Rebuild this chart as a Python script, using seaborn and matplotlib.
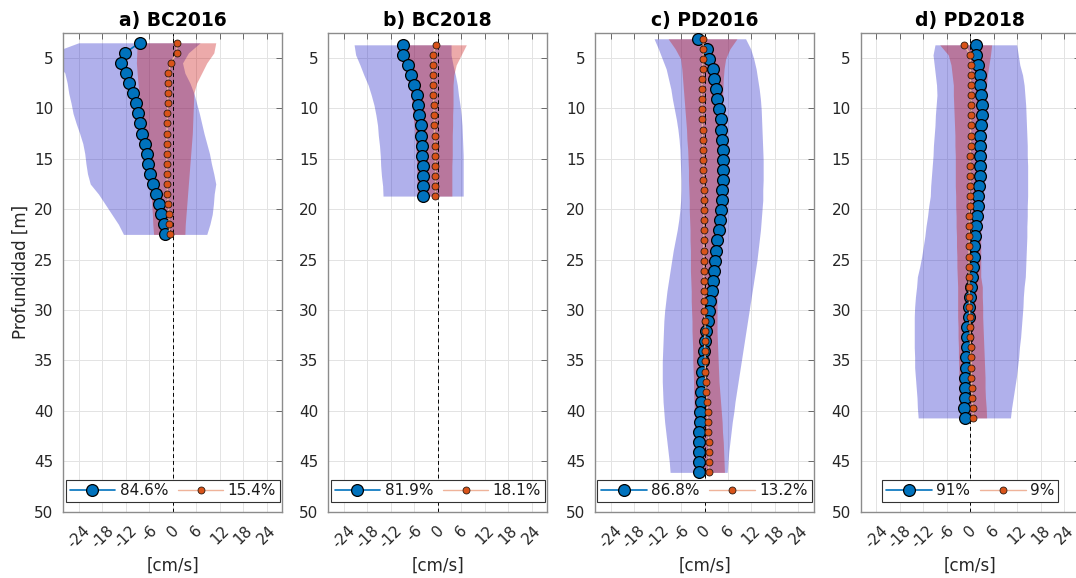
import matplotlib
matplotlib.use("Agg")
import matplotlib.pyplot as plt
import seaborn as sns

titles = ["a) BC2016", "b) BC2018", "c) PD2016", "d) PD2018"]
pct_blue = ["84.6%", "81.9%", "86.8%", "91%"]
pct_orange = ["15.4%", "18.1%", "13.2%", "9%"]

# depths [m]
depth_a = [3.5, 4.5, 5.5, 6.5, 7.5, 8.5, 9.5, 10.5, 11.5, 12.5, 13.5, 14.5, 15.5, 16.5,
           17.5, 18.5, 19.5, 20.5, 21.5, 22.5]
depth_b = [3.7, 4.7, 5.7, 6.7, 7.7, 8.7, 9.7, 10.7, 11.7, 12.7, 13.7, 14.7, 15.7, 16.7,
           17.7, 18.7]
depth_c = [3.1, 4.1, 5.1, 6.1, 7.1, 8.1, 9.1, 10.1, 11.1, 12.1, 13.1, 14.1, 15.1, 16.1,
           17.1, 18.1, 19.1, 20.1, 21.1, 22.1, 23.1, 24.1, 25.1, 26.1, 27.1, 28.1, 29.1,
           30.1, 31.1, 32.1, 33.1, 34.1, 35.1, 36.1, 37.1, 38.1, 39.1, 40.1, 41.1, 42.1,
           43.1, 44.1, 45.1, 46.1]
depth_d = [3.7, 4.7, 5.7, 6.7, 7.7, 8.7, 9.7, 10.7, 11.7, 12.7, 13.7, 14.7, 15.7, 16.7,
           17.7, 18.7, 19.7, 20.7, 21.7, 22.7, 23.7, 24.7, 25.7, 26.7, 27.7, 28.7, 29.7,
           30.7, 31.7, 32.7, 33.7, 34.7, 35.7, 36.7, 37.7, 38.7, 39.7, 40.7]

# mean profiles [cm/s]
blue_a = [-8.5, -12.2, -13.2, -12.0, -11.1, -10.2, -9.4, -8.9, -8.4, -7.8, -7.1, -6.6,
          -6.3, -5.7, -5.0, -4.3, -3.6, -2.9, -2.3, -2.0]
orange_a = [1.1, 1.0, -0.5, -1.1, -1.3, -1.3, -1.2, -1.4, -1.4, -1.5, -1.5, -1.5, -1.5,
            -1.5, -1.4, -1.4, -1.1, -1.0, -0.9, -0.8]
blue_b = [-9.0, -9.0, -7.7, -6.8, -6.1, -5.4, -5.0, -4.7, -4.4, -4.2, -4.1, -4.0, -3.9,
          -3.9, -3.9, -3.7]
orange_b = [-0.4, -1.3, -1.3, -1.3, -1.2, -1.1, -1.0, -0.9, -0.9, -0.8, -0.7, -0.7, -0.6,
            -0.6, -0.6, -0.6]
blue_c = [-1.7, 0.7, 1.1, 2.1, 2.5, 3.0, 3.3, 3.8, 4.2, 4.3, 4.6, 4.7, 4.7, 4.7, 4.7, 4.5,
          4.4, 4.2, 3.9, 3.6, 3.3, 2.9, 2.6, 2.4, 2.1, 1.8, 1.5, 1.2, 0.8, 0.4, 0.2, -0.2,
          -0.4, -0.6, -0.7, -0.8, -1.0, -1.1, -1.2, -1.3, -1.4, -1.4, -1.4, -1.4]
orange_c = [-0.4, -0.3, -0.4, -0.5, -0.6, -0.7, -0.7, -0.6, -0.6, -0.5, -0.5, -0.4, -0.4,
            -0.3, -0.3, -0.2, -0.2, -0.2, -0.2, -0.2, -0.2, -0.2, -0.2, -0.2, -0.2, -0.2,
            -0.2, -0.1, 0.1, 0.2, 0.0, 0.1, 0.2, 0.2, 0.3, 0.4, 0.7, 0.8, 0.8, 0.9, 1.1,
            1.2, 1.1, 1.1]
blue_d = [1.4, 1.4, 2.0, 2.4, 2.6, 2.7, 2.9, 2.9, 2.7, 2.6, 2.6, 2.6, 2.5, 2.4, 2.3, 2.1,
          2.0, 1.8, 1.4, 1.3, 1.0, 0.9, 0.7, 0.5, 0.3, 0.0, -0.2, -0.3, -0.7, -0.9, -0.9,
          -1.0, -1.1, -1.2, -1.3, -1.4, -1.5, -1.4]
orange_d = [-1.5, 0.0, 0.1, 0.1, 0.1, 0.2, 0.2, 0.2, 0.1, 0.1, 0.1, 0.0, 0.0, 0.0, 0.0,
            -0.1, -0.1, -0.2, -0.2, -0.2, -0.3, -0.3, -0.3, -0.3, -0.3, -0.2, -0.2, -0.1,
            0.0, 0.0, 0.1, 0.2, 0.3, 0.3, 0.4, 0.5, 0.7, 0.8]

# spread bands (lower / upper)
blue_lo_a = [-24.1, -31.0, -29.5, -27.6, -27.0, -26.6, -26.0, -25.5, -24.7, -23.8, -23.0,
             -22.5, -22.2, -21.8, -21.1, -19.0, -17.3, -15.6, -13.9, -12.6]
blue_hi_a = [7.0, 4.0, 2.5, 3.1, 4.4, 5.4, 6.1, 6.8, 7.4, 8.0, 8.7, 9.4, 9.9, 10.5, 11.0,
             10.6, 10.4, 10.1, 9.5, 8.7]
red_lo_a = [-9.1, -9.2, -9.3, -9.1, -8.9, -8.6, -8.3, -7.9, -7.5, -7.1, -6.8, -6.6, -6.4,
            -6.1, -5.8, -5.5, -5.4, -5.2, -5.1, -4.9]
red_hi_a = [11.0, 10.5, 8.7, 7.4, 6.1, 5.4, 5.3, 5.2, 5.1, 5.0, 4.8, 4.6, 4.4, 4.2, 4.0,
            3.8, 3.6, 3.4, 3.2, 3.1]
blue_lo_b = [-21.4, -21.0, -19.9, -18.9, -17.8, -17.0, -16.3, -15.8, -15.4, -15.2, -14.9,
             -14.7, -14.6, -14.4, -14.1, -14.0]
blue_hi_b = [3.4, 3.4, 3.9, 4.5, 5.0, 5.3, 5.7, 6.0, 6.2, 6.3, 6.4, 6.5, 6.5, 6.5, 6.5, 6.5]
red_lo_b = [-8.5, -8.3, -7.9, -7.5, -7.1, -6.8, -6.5, -6.3, -6.0, -5.8, -5.6, -5.5, -5.4,
            -5.3, -5.3, -5.2]
red_hi_b = [7.3, 6.0, 4.7, 4.1, 3.9, 3.9, 3.9, 3.8, 3.8, 3.7, 3.7, 3.7, 3.6, 3.6, 3.6, 3.6]
blue_lo_c = [-12.9, -11.8, -10.8, -9.8, -9.2, -8.6, -8.2, -7.7, -7.2, -6.8, -6.5, -6.3,
             -6.2, -6.1, -6.0, -6.0, -6.1, -6.3, -6.6, -7.0, -7.5, -8.0, -8.4, -8.8, -9.2,
             -9.6, -9.9, -10.2, -10.4, -10.5, -10.6, -10.7, -10.8, -10.8, -10.8, -10.7,
             -10.6, -10.4, -10.2, -9.9, -9.6, -9.3, -9.0, -8.8]
blue_hi_c = [10.5, 11.8, 12.6, 13.2, 13.6, 14.0, 14.3, 14.5, 14.6, 14.7, 14.8, 14.9, 15.0,
             15.0, 15.0, 14.9, 14.9, 14.7, 14.5, 14.3, 14.0, 13.7, 13.4, 13.0, 12.6, 12.2,
             11.8, 11.4, 11.0, 10.6, 10.2, 9.8, 9.4, 9.0, 8.6, 8.2, 7.8, 7.5, 7.1, 6.8, 6.5,
             6.2, 6.0, 5.8]
red_lo_c = [-9.3, -7.5, -6.1, -5.8, -5.6, -5.4, -5.2, -5.0, -4.8, -4.6, -4.5, -4.3, -4.2,
            -4.1, -4.1, -4.0, -3.9, -3.9, -3.8, -3.7, -3.7, -3.6, -3.6, -3.6, -3.5, -3.4,
            -3.4, -3.3, -3.2, -3.2, -3.1, -3.0, -3.0, -2.9, -2.8, -2.8, -2.7, -2.6, -2.5,
            -2.4, -2.3, -2.2, -2.1, -2.0]
red_hi_c = [8.3, 6.5, 5.4, 5.0, 4.8, 4.7, 4.6, 4.6, 4.5, 4.5, 4.5, 4.4, 4.3, 4.2, 4.1, 4.0,
            4.0, 3.9, 3.8, 3.7, 3.6, 3.5, 3.4, 3.3, 3.2, 3.2, 3.2, 3.2, 3.2, 3.2, 3.3, 3.4,
            3.5, 3.6, 3.7, 3.9, 4.1, 4.3, 4.5, 4.6, 4.8, 4.9, 5.0, 5.1]
blue_lo_d = [-9.0, -9.5, -9.2, -8.9, -8.6, -8.5, -8.7, -8.9, -9.0, -9.2, -9.4, -9.5, -9.7,
             -9.9, -10.1, -10.2, -10.6, -10.9, -11.3, -11.6, -12.0, -12.4, -12.9, -13.5,
             -13.7, -14.0, -14.2, -14.3, -14.3, -14.3, -14.3, -14.2, -14.2, -14.0, -13.8,
             -13.6, -13.5, -13.3]
blue_hi_d = [11.9, 12.3, 12.7, 13.4, 13.8, 14.0, 14.2, 14.3, 14.4, 14.5, 14.6, 14.6, 14.7,
             14.7, 14.7, 14.7, 14.6, 14.6, 14.5, 14.5, 14.4, 14.3, 14.2, 14.1, 13.8, 13.6,
             13.5, 13.3, 13.1, 12.9, 12.6, 12.4, 12.1, 11.8, 11.4, 11.0, 10.6, 10.3]
red_lo_d = [-7.8, -5.6, -4.9, -4.6, -4.3, -4.3, -4.2, -4.1, -4.0, -3.9, -3.9, -3.8, -3.8,
            -3.8, -3.8, -3.7, -3.7, -3.6, -3.6, -3.5, -3.5, -3.4, -3.4, -3.3, -3.2, -3.2,
            -3.2, -3.2, -3.1, -3.1, -3.0, -3.0, -2.9, -2.9, -2.8, -2.8, -2.7, -2.6]
red_hi_d = [5.5, 5.2, 4.8, 4.4, 4.2, 3.9, 3.8, 3.6, 3.4, 3.2, 3.2, 3.1, 3.0, 2.9, 2.9, 2.8,
            2.8, 2.7, 2.7, 2.7, 2.7, 2.7, 2.7, 2.7, 3.1, 3.1, 3.2, 3.2, 3.3, 3.4, 3.5, 3.6,
            3.7, 3.8, 3.8, 3.9, 4.1, 4.2]

panels = [
    (depth_a, blue_a, orange_a, blue_lo_a, blue_hi_a, red_lo_a, red_hi_a),
    (depth_b, blue_b, orange_b, blue_lo_b, blue_hi_b, red_lo_b, red_hi_b),
    (depth_c, blue_c, orange_c, blue_lo_c, blue_hi_c, red_lo_c, red_hi_c),
    (depth_d, blue_d, orange_d, blue_lo_d, blue_hi_d, red_lo_d, red_hi_d),
]

sns.set_style("white")
plt.rcParams['font.family'] = ['DejaVu Sans']
plt.rcParams['axes.unicode_minus'] = False

fig = plt.figure(figsize=(10.76, 5.78), dpi=100)
lefts = [0.0588, 0.3051, 0.5530, 0.7999]

for i, (dep, mb, mo, blo, bhi, rlo, rhi) in enumerate(panels):
    ax = fig.add_axes([lefts[i], 0.1147, 0.2035, 0.8287])
    ax.set_axisbelow(True)
    ax.grid(True, color="#e3e3e3", lw=0.7)

    ax.fill_betweenx(dep, blo, bhi, color=(0.15, 0.15, 0.79), alpha=0.36, lw=0, zorder=1)
    ax.fill_betweenx(dep, rlo, rhi, color=(0.79, 0.05, 0.05), alpha=0.35, lw=0, zorder=1.1)
    ax.axvline(0, color="k", ls=(0, (4, 3)), lw=0.7, zorder=1.5)

    sns.lineplot(x=mb, y=dep, orient="y", estimator=None, sort=False, ax=ax,
                 color="#0072BD", lw=1.2, marker="o", markersize=8.5,
                 markerfacecolor="#0072BD", markeredgecolor="black",
                 markeredgewidth=0.9, label=pct_blue[i], zorder=3)
    sns.lineplot(x=mo, y=dep, orient="y", estimator=None, sort=False, ax=ax,
                 color="#efb39a", lw=1.0, marker="o", markersize=5.0,
                 markerfacecolor="#D95319", markeredgecolor="#2a1a10",
                 markeredgewidth=0.6, label=pct_orange[i], zorder=4)

    ax.set_xlim(-28, 28)
    ax.set_ylim(50, 2.5)
    ax.set_xticks(range(-24, 25, 6))
    ax.set_yticks(range(5, 51, 5))
    ax.tick_params(direction="in", top=True, right=True, length=4, width=0.6,
                   color="#555555", labelsize=11, labelcolor="#262626")
    ax.tick_params(axis="x", pad=8, labelrotation=45)
    ax.tick_params(axis="y", pad=7)
    for s in ax.spines.values():
        s.set_color("#8c8c8c")
        s.set_linewidth(1.0)

    ax.set_title(titles[i], fontsize=13.5, fontweight="bold", pad=5, color="black")
    ax.set_xlabel("[cm/s]", fontsize=12, color="#262626")
    ax.xaxis.set_label_coords(0.5, -0.094)
    if i == 0:
        ax.set_ylabel("Profundidad [m]", fontsize=12, color="#262626")
        ax.yaxis.set_label_coords(-0.155, 0.5)
    else:
        ax.set_ylabel("")

    leg = ax.legend(loc="lower center", bbox_to_anchor=(0.5, 0.0196), ncol=2,
                    fontsize=11, frameon=True, fancybox=False, framealpha=1,
                    edgecolor="#333333", handlelength=3.0, handletextpad=0.27,
                    columnspacing=0.63, borderpad=0.25, borderaxespad=0)
    leg.get_frame().set_linewidth(0.8)
    for t in leg.get_texts():
        t.set_color("#1a1a1a")

fig.savefig("out.png", dpi=100)
